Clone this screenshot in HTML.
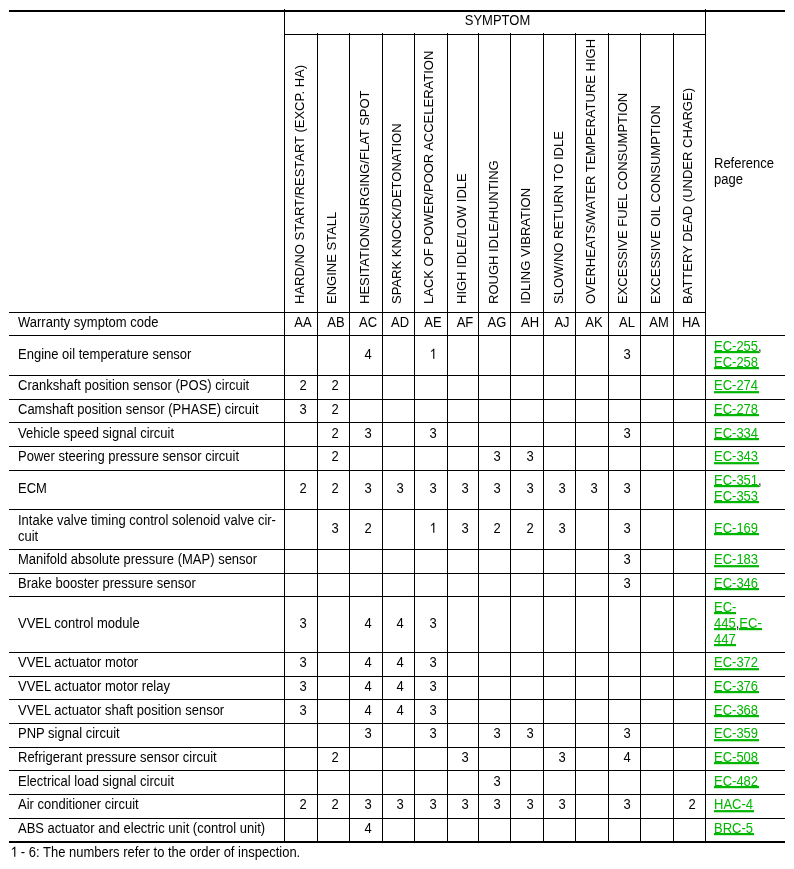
<!DOCTYPE html>
<html><head><meta charset="utf-8"><title>Symptom Matrix Chart</title>
<style>
html,body{margin:0;padding:0;background:#fff}
body{width:794px;height:869px;position:relative;overflow:hidden;font-family:"Liberation Sans",sans-serif;font-size:13px;line-height:16px;color:#000}
body>div{position:absolute;white-space:nowrap}
svg{fill:currentColor;vertical-align:-0.2px;overflow:visible}
u{color:#00b600;text-decoration:none;padding-right:1px;margin-right:-1px;background:linear-gradient(#00b600,#00b600) no-repeat;background-size:100% 2px}
.c{color:#111}
.s{padding-right:0;margin-right:0}
.g0{background-position:0 12px}
.g1{background-position:0 13px}
.t{transform:scaleY(1.1);transform-origin:0 12px;will-change:transform}
</style></head><body>
<div style="left:9px;top:10px;width:776px;height:2px;background:#000"></div>
<div style="left:9px;top:841px;width:776px;height:2px;background:#000"></div>
<div style="left:9px;top:312px;width:697px;height:1px;background:#000"></div>
<div style="left:9px;top:335px;width:776px;height:1px;background:#000"></div>
<div style="left:9px;top:375px;width:776px;height:1px;background:#000"></div>
<div style="left:9px;top:399px;width:776px;height:1px;background:#000"></div>
<div style="left:9px;top:422px;width:776px;height:1px;background:#000"></div>
<div style="left:9px;top:446px;width:776px;height:1px;background:#000"></div>
<div style="left:9px;top:470px;width:776px;height:1px;background:#000"></div>
<div style="left:9px;top:509px;width:776px;height:1px;background:#000"></div>
<div style="left:9px;top:549px;width:776px;height:1px;background:#000"></div>
<div style="left:9px;top:573px;width:776px;height:1px;background:#000"></div>
<div style="left:9px;top:596px;width:776px;height:1px;background:#000"></div>
<div style="left:9px;top:652px;width:776px;height:1px;background:#000"></div>
<div style="left:9px;top:676px;width:776px;height:1px;background:#000"></div>
<div style="left:9px;top:699px;width:776px;height:1px;background:#000"></div>
<div style="left:9px;top:723px;width:776px;height:1px;background:#000"></div>
<div style="left:9px;top:747px;width:776px;height:1px;background:#000"></div>
<div style="left:9px;top:770px;width:776px;height:1px;background:#000"></div>
<div style="left:9px;top:794px;width:776px;height:1px;background:#000"></div>
<div style="left:9px;top:818px;width:776px;height:1px;background:#000"></div>
<div style="left:284px;top:34px;width:422px;height:1px;background:#000"></div>
<div style="left:284px;top:9px;width:1px;height:832px;background:#000"></div>
<div style="left:317px;top:33px;width:1px;height:808px;background:#000"></div>
<div style="left:349px;top:33px;width:1px;height:808px;background:#000"></div>
<div style="left:382px;top:33px;width:1px;height:808px;background:#000"></div>
<div style="left:414px;top:33px;width:1px;height:808px;background:#000"></div>
<div style="left:447px;top:33px;width:1px;height:808px;background:#000"></div>
<div style="left:478px;top:33px;width:1px;height:808px;background:#000"></div>
<div style="left:510px;top:33px;width:1px;height:808px;background:#000"></div>
<div style="left:543px;top:33px;width:1px;height:808px;background:#000"></div>
<div style="left:575px;top:33px;width:1px;height:808px;background:#000"></div>
<div style="left:608px;top:33px;width:1px;height:808px;background:#000"></div>
<div style="left:640px;top:33px;width:1px;height:808px;background:#000"></div>
<div style="left:673px;top:33px;width:1px;height:808px;background:#000"></div>
<div style="left:705px;top:9px;width:1px;height:832px;background:#000"></div>
<div class="t" style="left:284px;top:13px;width:422px;text-align:center;padding-left:5px;box-sizing:border-box">SYMPTOM</div>
<div class="t" style="left:714px;top:156px">Reference</div>
<div class="t" style="left:714px;top:172px">page</div>
<div style="left:292.00px;top:304px;transform-origin:0 0;transform:rotate(-90deg);will-change:transform;white-space:nowrap">HARD/NO START/RESTART (EXCP. HA)</div>
<div style="left:324.32px;top:304px;transform-origin:0 0;transform:rotate(-90deg);will-change:transform;white-space:nowrap">ENGINE STALL</div>
<div style="left:356.64px;top:304px;transform-origin:0 0;transform:rotate(-90deg);will-change:transform;white-space:nowrap">HESITATION/SURGING/FLAT SPOT</div>
<div style="left:388.96px;top:304px;transform-origin:0 0;transform:rotate(-90deg);will-change:transform;white-space:nowrap">SPARK KNOCK/DETONATION</div>
<div style="left:421.28px;top:304px;transform-origin:0 0;transform:rotate(-90deg);will-change:transform;white-space:nowrap">LACK OF POWER/POOR ACCELERATION</div>
<div style="left:453.60px;top:304px;transform-origin:0 0;transform:rotate(-90deg);will-change:transform;white-space:nowrap">HIGH IDLE/LOW IDLE</div>
<div style="left:485.92px;top:304px;transform-origin:0 0;transform:rotate(-90deg);will-change:transform;white-space:nowrap">ROUGH IDLE/HUNTING</div>
<div style="left:518.24px;top:304px;transform-origin:0 0;transform:rotate(-90deg);will-change:transform;white-space:nowrap">IDLING VIBRATION</div>
<div style="left:550.56px;top:304px;transform-origin:0 0;transform:rotate(-90deg);will-change:transform;white-space:nowrap">SLOW/NO RETURN TO IDLE</div>
<div style="left:582.88px;top:304px;transform-origin:0 0;transform:rotate(-90deg);will-change:transform;white-space:nowrap">OVERHEATS/WATER TEMPERATURE HIGH</div>
<div style="left:615.20px;top:304px;transform-origin:0 0;transform:rotate(-90deg);will-change:transform;white-space:nowrap">EXCESSIVE FUEL CONSUMPTION</div>
<div style="left:647.52px;top:304px;transform-origin:0 0;transform:rotate(-90deg);will-change:transform;white-space:nowrap">EXCESSIVE OIL CONSUMPTION</div>
<div style="left:679.84px;top:304px;transform-origin:0 0;transform:rotate(-90deg);will-change:transform;white-space:nowrap">BATTERY DEAD (UNDER CHARGE)</div>
<div class="t" style="left:18px;top:315px">Warranty symptom code</div>
<div class="t" style="left:287.10px;top:315px;width:32px;text-align:center">AA</div>
<div class="t" style="left:320.07px;top:315px;width:32px;text-align:center">AB</div>
<div class="t" style="left:351.84px;top:315px;width:32px;text-align:center">AC</div>
<div class="t" style="left:384.21px;top:315px;width:32px;text-align:center">AD</div>
<div class="t" style="left:416.58px;top:315px;width:32px;text-align:center">AE</div>
<div class="t" style="left:448.95px;top:315px;width:32px;text-align:center">AF</div>
<div class="t" style="left:481.32px;top:315px;width:32px;text-align:center">AG</div>
<div class="t" style="left:513.69px;top:315px;width:32px;text-align:center">AH</div>
<div class="t" style="left:546.06px;top:315px;width:32px;text-align:center">AJ</div>
<div class="t" style="left:578.43px;top:315px;width:32px;text-align:center">AK</div>
<div class="t" style="left:610.80px;top:315px;width:32px;text-align:center">AL</div>
<div class="t" style="left:643.17px;top:315px;width:32px;text-align:center">AM</div>
<div class="t" style="left:674.94px;top:315px;width:32px;text-align:center">HA</div>
<div class="t" style="left:18px;top:347.0px">Engine oil temperature sensor</div>
<div class="t" style="left:351.84px;top:347px;width:32px;text-align:center">4</div>
<div class="t" style="left:416.58px;top:347px;width:32px;text-align:center"><svg width="7.23" height="9.4" viewBox="0 -1395 1139 1480"><path d="M842,0L662,0L662,-1190L301,-985L301,-1110C450,-1190 585,-1310 665,-1440L842,-1440Z"/></svg></div>
<div class="t" style="left:610.80px;top:347px;width:32px;text-align:center">3</div>
<div class="t" style="left:714px;top:339.0px"><u class="g0">EC-255</u><span class="c">,</span></div>
<div class="t" style="left:714px;top:355.0px"><u class="g0">EC-258</u></div>
<div class="t" style="left:18px;top:378.0px">Crankshaft position sensor (POS) circuit</div>
<div class="t" style="left:287.10px;top:378px;width:32px;text-align:center">2</div>
<div class="t" style="left:319.47px;top:378px;width:32px;text-align:center">2</div>
<div class="t" style="left:714px;top:378.0px"><u class="g1">EC-274</u></div>
<div class="t" style="left:18px;top:402.0px">Camshaft position sensor (PHASE) circuit</div>
<div class="t" style="left:287.10px;top:402px;width:32px;text-align:center">3</div>
<div class="t" style="left:319.47px;top:402px;width:32px;text-align:center">2</div>
<div class="t" style="left:714px;top:402.0px"><u class="g0">EC-278</u></div>
<div class="t" style="left:18px;top:426.0px">Vehicle speed signal circuit</div>
<div class="t" style="left:319.47px;top:426px;width:32px;text-align:center">2</div>
<div class="t" style="left:351.84px;top:426px;width:32px;text-align:center">3</div>
<div class="t" style="left:416.58px;top:426px;width:32px;text-align:center">3</div>
<div class="t" style="left:610.80px;top:426px;width:32px;text-align:center">3</div>
<div class="t" style="left:714px;top:426.0px"><u class="g0">EC-334</u></div>
<div class="t" style="left:18px;top:449.0px">Power steering pressure sensor circuit</div>
<div class="t" style="left:319.47px;top:449px;width:32px;text-align:center">2</div>
<div class="t" style="left:481.32px;top:449px;width:32px;text-align:center">3</div>
<div class="t" style="left:513.69px;top:449px;width:32px;text-align:center">3</div>
<div class="t" style="left:714px;top:449.0px"><u class="g1">EC-343</u></div>
<div class="t" style="left:18px;top:481.0px">ECM</div>
<div class="t" style="left:287.10px;top:481px;width:32px;text-align:center">2</div>
<div class="t" style="left:319.47px;top:481px;width:32px;text-align:center">2</div>
<div class="t" style="left:351.84px;top:481px;width:32px;text-align:center">3</div>
<div class="t" style="left:384.21px;top:481px;width:32px;text-align:center">3</div>
<div class="t" style="left:416.58px;top:481px;width:32px;text-align:center">3</div>
<div class="t" style="left:448.95px;top:481px;width:32px;text-align:center">3</div>
<div class="t" style="left:481.32px;top:481px;width:32px;text-align:center">3</div>
<div class="t" style="left:513.69px;top:481px;width:32px;text-align:center">3</div>
<div class="t" style="left:546.06px;top:481px;width:32px;text-align:center">3</div>
<div class="t" style="left:578.43px;top:481px;width:32px;text-align:center">3</div>
<div class="t" style="left:610.80px;top:481px;width:32px;text-align:center">3</div>
<div class="t" style="left:714px;top:473.0px"><u class="g0">EC-351</u><span class="c">,</span></div>
<div class="t" style="left:714px;top:489.0px"><u class="g0">EC-353</u></div>
<div class="t" style="left:18px;top:513.0px">Intake valve timing control solenoid valve cir-</div>
<div class="t" style="left:18px;top:529.0px">cuit</div>
<div class="t" style="left:319.47px;top:521px;width:32px;text-align:center">3</div>
<div class="t" style="left:351.84px;top:521px;width:32px;text-align:center">2</div>
<div class="t" style="left:416.58px;top:521px;width:32px;text-align:center"><svg width="7.23" height="9.4" viewBox="0 -1395 1139 1480"><path d="M842,0L662,0L662,-1190L301,-985L301,-1110C450,-1190 585,-1310 665,-1440L842,-1440Z"/></svg></div>
<div class="t" style="left:448.95px;top:521px;width:32px;text-align:center">3</div>
<div class="t" style="left:481.32px;top:521px;width:32px;text-align:center">2</div>
<div class="t" style="left:513.69px;top:521px;width:32px;text-align:center">2</div>
<div class="t" style="left:546.06px;top:521px;width:32px;text-align:center">3</div>
<div class="t" style="left:610.80px;top:521px;width:32px;text-align:center">3</div>
<div class="t" style="left:714px;top:521.0px"><u class="g0">EC-169</u></div>
<div class="t" style="left:18px;top:552.0px">Manifold absolute pressure (MAP) sensor</div>
<div class="t" style="left:610.80px;top:552px;width:32px;text-align:center">3</div>
<div class="t" style="left:714px;top:552.0px"><u class="g1">EC-183</u></div>
<div class="t" style="left:18px;top:576.0px">Brake booster pressure sensor</div>
<div class="t" style="left:610.80px;top:576px;width:32px;text-align:center">3</div>
<div class="t" style="left:714px;top:576.0px"><u class="g0">EC-346</u></div>
<div class="t" style="left:18px;top:616.0px">VVEL control module</div>
<div class="t" style="left:287.10px;top:616px;width:32px;text-align:center">3</div>
<div class="t" style="left:351.84px;top:616px;width:32px;text-align:center">4</div>
<div class="t" style="left:384.21px;top:616px;width:32px;text-align:center">4</div>
<div class="t" style="left:416.58px;top:616px;width:32px;text-align:center">3</div>
<div class="t" style="left:714px;top:600.0px"><u class="g0 s">EC-</u></div>
<div class="t" style="left:714px;top:616.0px"><u class="g0 s">445</u><span class="c">,</span><u class="g0 s">EC-</u></div>
<div class="t" style="left:714px;top:632.0px"><u class="g0 s">447</u></div>
<div class="t" style="left:18px;top:655.0px">VVEL actuator motor</div>
<div class="t" style="left:287.10px;top:655px;width:32px;text-align:center">3</div>
<div class="t" style="left:351.84px;top:655px;width:32px;text-align:center">4</div>
<div class="t" style="left:384.21px;top:655px;width:32px;text-align:center">4</div>
<div class="t" style="left:416.58px;top:655px;width:32px;text-align:center">3</div>
<div class="t" style="left:714px;top:655.0px"><u class="g1">EC-372</u></div>
<div class="t" style="left:18px;top:679.0px">VVEL actuator motor relay</div>
<div class="t" style="left:287.10px;top:679px;width:32px;text-align:center">3</div>
<div class="t" style="left:351.84px;top:679px;width:32px;text-align:center">4</div>
<div class="t" style="left:384.21px;top:679px;width:32px;text-align:center">4</div>
<div class="t" style="left:416.58px;top:679px;width:32px;text-align:center">3</div>
<div class="t" style="left:714px;top:679.0px"><u class="g0">EC-376</u></div>
<div class="t" style="left:18px;top:703.0px">VVEL actuator shaft position sensor</div>
<div class="t" style="left:287.10px;top:703px;width:32px;text-align:center">3</div>
<div class="t" style="left:351.84px;top:703px;width:32px;text-align:center">4</div>
<div class="t" style="left:384.21px;top:703px;width:32px;text-align:center">4</div>
<div class="t" style="left:416.58px;top:703px;width:32px;text-align:center">3</div>
<div class="t" style="left:714px;top:703.0px"><u class="g0">EC-368</u></div>
<div class="t" style="left:18px;top:726.0px">PNP signal circuit</div>
<div class="t" style="left:351.84px;top:726px;width:32px;text-align:center">3</div>
<div class="t" style="left:416.58px;top:726px;width:32px;text-align:center">3</div>
<div class="t" style="left:481.32px;top:726px;width:32px;text-align:center">3</div>
<div class="t" style="left:513.69px;top:726px;width:32px;text-align:center">3</div>
<div class="t" style="left:610.80px;top:726px;width:32px;text-align:center">3</div>
<div class="t" style="left:714px;top:726.0px"><u class="g1">EC-359</u></div>
<div class="t" style="left:18px;top:750.0px">Refrigerant pressure sensor circuit</div>
<div class="t" style="left:319.47px;top:750px;width:32px;text-align:center">2</div>
<div class="t" style="left:448.95px;top:750px;width:32px;text-align:center">3</div>
<div class="t" style="left:546.06px;top:750px;width:32px;text-align:center">3</div>
<div class="t" style="left:610.80px;top:750px;width:32px;text-align:center">4</div>
<div class="t" style="left:714px;top:750.0px"><u class="g0">EC-508</u></div>
<div class="t" style="left:18px;top:774.0px">Electrical load signal circuit</div>
<div class="t" style="left:481.32px;top:774px;width:32px;text-align:center">3</div>
<div class="t" style="left:714px;top:774.0px"><u class="g0">EC-482</u></div>
<div class="t" style="left:18px;top:797.0px">Air conditioner circuit</div>
<div class="t" style="left:287.10px;top:797px;width:32px;text-align:center">2</div>
<div class="t" style="left:319.47px;top:797px;width:32px;text-align:center">2</div>
<div class="t" style="left:351.84px;top:797px;width:32px;text-align:center">3</div>
<div class="t" style="left:384.21px;top:797px;width:32px;text-align:center">3</div>
<div class="t" style="left:416.58px;top:797px;width:32px;text-align:center">3</div>
<div class="t" style="left:448.95px;top:797px;width:32px;text-align:center">3</div>
<div class="t" style="left:481.32px;top:797px;width:32px;text-align:center">3</div>
<div class="t" style="left:513.69px;top:797px;width:32px;text-align:center">3</div>
<div class="t" style="left:546.06px;top:797px;width:32px;text-align:center">3</div>
<div class="t" style="left:610.80px;top:797px;width:32px;text-align:center">3</div>
<div class="t" style="left:675.54px;top:797px;width:32px;text-align:center">2</div>
<div class="t" style="left:714px;top:797.0px"><u class="g1">HAC-4</u></div>
<div class="t" style="left:18px;top:821.0px">ABS actuator and electric unit (control unit)</div>
<div class="t" style="left:351.84px;top:821px;width:32px;text-align:center">4</div>
<div class="t" style="left:714px;top:821.0px"><u class="g0">BRC-5</u></div>
<div class="t" style="left:9.6px;top:845px"><svg width="7.23" height="9.4" viewBox="0 -1395 1139 1480"><path d="M842,0L662,0L662,-1190L301,-985L301,-1110C450,-1190 585,-1310 665,-1440L842,-1440Z"/></svg> - 6: The numbers refer to the order of inspection.</div>
</body></html>
